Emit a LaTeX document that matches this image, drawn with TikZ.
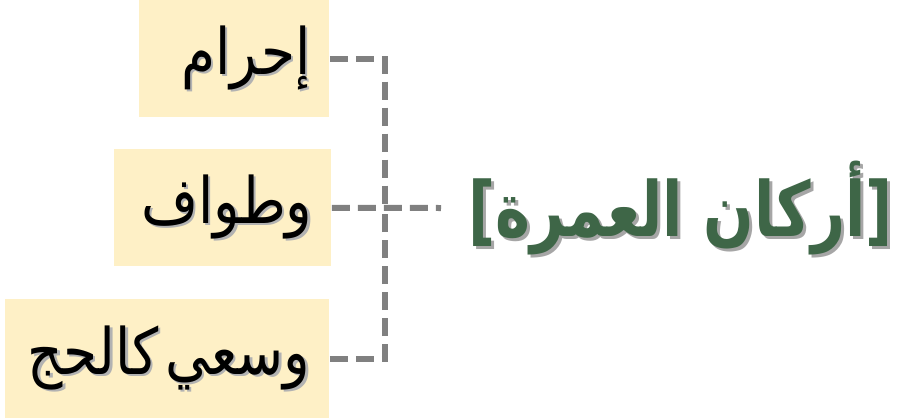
\documentclass[tikz,border=0pt]{standalone}
\usepackage{fontspec}
\TeXXeTstate=1
\newfontfamily\arabicfont[Script=Arabic,FakeStretch=0.86]{DejaVu Sans}
\newfontfamily\arabictitle[Script=Arabic,FakeStretch=0.78]{DejaVu Sans}
\newfontfamily\bracketfont[FakeStretch=0.78]{DejaVu Sans}
\definecolor{boxfill}{HTML}{FEF0C6}
\definecolor{linegray}{HTML}{808080}
\definecolor{titlegreen}{HTML}{3E6647}
\newcommand\shtxt[3]{\makebox[0pt][l]{\kern#1\raisebox{-#1}{\textcolor{#2}{#3}}}#3}
\begin{document}
\begin{tikzpicture}[x=0.5pt,y=-0.5pt,
  itembox/.style={rectangle, fill=boxfill, draw=none, inner sep=0pt, anchor=north west, align=right},
  conn/.style={draw=linegray, line width=3pt, dash pattern=on 9pt off 4pt},
  titlenode/.style={inner sep=0pt, anchor=west, text=titlegreen}]
\useasboundingbox[fill=white] (0,0) rectangle (902,418);
\node[itembox, minimum width=95pt, minimum height=58.5pt, text width=76pt] (b1) at (139,0)
  {\arabicfont\fontsize{32pt}{35pt}\selectfont\shtxt{1.2pt}{black!30}{\beginR إحرام\endR}};
\node[itembox, minimum width=108.5pt, minimum height=58.5pt, text width=89.5pt] (b2) at (114,149)
  {\arabicfont\fontsize{32pt}{35pt}\selectfont\shtxt{1.2pt}{black!30}{\beginR وطواف\endR}};
\node[itembox, minimum width=162pt, minimum height=59.5pt, text width=143pt] (b3) at (5,299)
  {\arabicfont\fontsize{32pt}{35pt}\selectfont\shtxt{1.2pt}{black!30}{\beginR وسعي كالحج\endR}};
\coordinate (j) at (385,208);
\coordinate (tin) at (441,208);
\node[titlenode] (t) at (468,210)
  {\bfseries\fontsize{38pt}{42pt}\selectfont\shtxt{1.5pt}{black!35}{{\bracketfont[}{\arabictitle\beginR أركان العمرة\endR}{\bracketfont]}}};
\draw[conn] (b1.east) -| (j);
\draw[conn] (b3.east) -| (j);
\draw[conn] (b2.east) -- (tin);
\end{tikzpicture}
\end{document}
